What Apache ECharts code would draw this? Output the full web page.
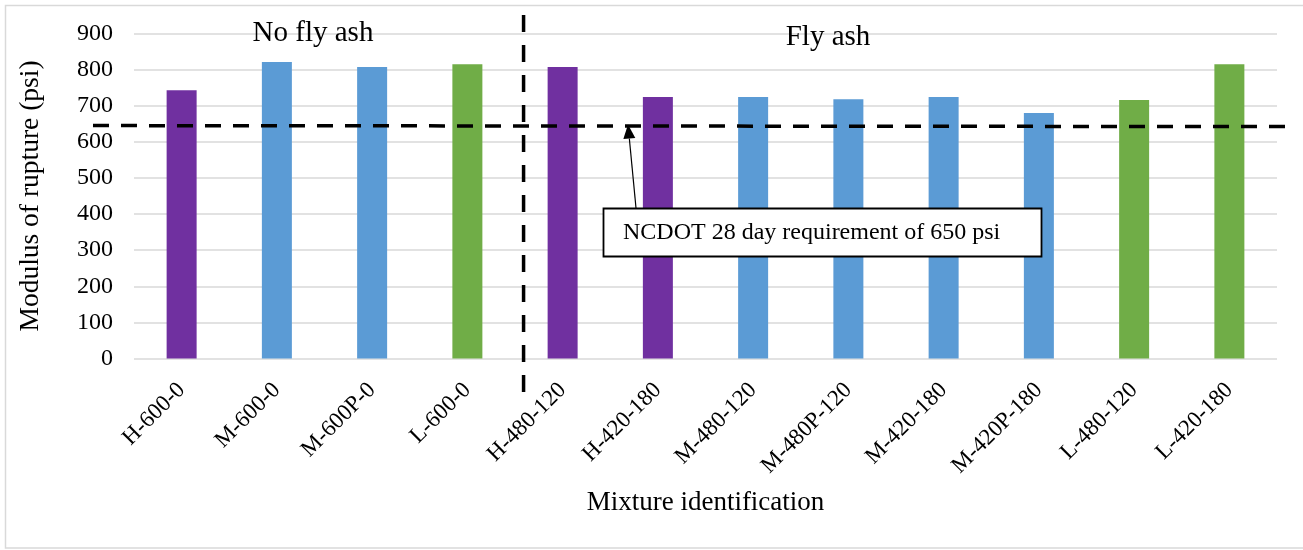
<!DOCTYPE html>
<html>
<head>
<meta charset="utf-8">
<script src="https://cdn.jsdelivr.net/npm/echarts@6/dist/echarts.min.js"></script>
<style>
html,body{margin:0;padding:0;background:#fff;}
#chart{width:1303px;height:550px;}
</style>
</head>
<body>
<div id="chart"></div>
<script>
// ---- data ----
const categories = ['H-600-0','M-600-0','M-600P-0','L-600-0','H-480-120','H-420-180','M-480-120','M-480P-120','M-420-180','M-420P-180','L-480-120','L-420-180'];
const modulusOfRupture = [743, 821, 807, 815, 807, 724, 724, 718, 724, 680, 716, 815];
const binderGroup = ['H','M','M','L','H','H','M','M','M','M','L','L'];
const yMin = 0, yMax = 900, yInterval = 100;
const requirementLine = 645;
const sectionLabels = ['No fly ash', 'Fly ash'];
const annotationText = 'NCDOT 28 day requirement of 650 psi';
const yAxisTitle = 'Modulus of rupture (psi)';
const xAxisTitle = 'Mixture identification';

const groupColors = { H: '#7030a0', M: '#5b9bd5', L: '#70ad47' };
const FONT = '"Liberation Serif", "Times New Roman", serif';

const chart = echarts.init(document.getElementById('chart'), null, { renderer: 'canvas' });

chart.setOption({
  animation: false,
  backgroundColor: '#ffffff',
  grid: { left: 134, right: 26, top: 33.5, bottom: 191.5, containLabel: false },
  xAxis: {
    type: 'category',
    data: categories,
    axisLine: { show: false },
    axisTick: { show: false },
    axisLabel: { rotate: 45, margin: 28, fontFamily: FONT, fontSize: 23, color: '#000', interval: 0 },
    name: xAxisTitle,
    nameLocation: 'middle',
    nameGap: 131,
    nameTextStyle: { fontFamily: FONT, fontSize: 27, color: '#000' }
  },
  yAxis: {
    type: 'value',
    min: yMin, max: yMax, interval: yInterval,
    axisLine: { show: false },
    axisTick: { show: false },
    axisLabel: { margin: 21, fontFamily: FONT, fontSize: 24, color: '#000' },
    splitLine: { lineStyle: { color: '#d9d9d9', width: 1.5 } },
    name: yAxisTitle,
    nameLocation: 'middle',
    nameRotate: 90,
    nameGap: 89,
    nameTextStyle: { fontFamily: FONT, fontSize: 27.5, color: '#000' }
  },
  series: [{
    type: 'bar',
    data: modulusOfRupture.map((v, i) => ({ value: v, itemStyle: { color: groupColors[binderGroup[i]] } })),
    barWidth: 30
  }]
});

function drawOverlays() {
  const yReq = chart.convertToPixel({ yAxisIndex: 0 }, requirementLine);
  const x3 = chart.convertToPixel({ xAxisIndex: 0 }, categories[3]);
  const x4 = chart.convertToPixel({ xAxisIndex: 0 }, categories[4]);
  const xDiv = x3 + (x4 - x3) * 0.59;

  const tip = [628, yReq - 1];
  const tail = [636, 208];
  const dx = tip[0] - tail[0], dy = tip[1] - tail[1];
  const len = Math.sqrt(dx * dx + dy * dy);
  const ux = dx / len, uy = dy / len;
  const hl = 14, hw = 6;
  const base = [tip[0] - ux * hl, tip[1] - uy * hl];
  const px = -uy, py = ux;

  chart.setOption({
    graphic: [
      { type: 'rect', shape: { x: 5.5, y: 5.5, width: 1300, height: 542.5 }, style: { fill: null, stroke: '#d9d9d9', lineWidth: 1.5 }, silent: true, z: 0 },
      { type: 'line', shape: { x1: 93, y1: yReq, x2: 1286, y2: yReq + 1 }, style: { stroke: '#000', lineWidth: 3.5, lineDash: [16, 12] }, z: 10 },
      { type: 'line', shape: { x1: xDiv, y1: 15, x2: xDiv, y2: 398 }, style: { stroke: '#000', lineWidth: 3.5, lineDash: [17, 13] }, z: 10 },
      { type: 'text', x: 313, y: 33, style: { text: sectionLabels[0], font: '29px ' + FONT, fill: '#000', align: 'center', verticalAlign: 'middle' }, z: 11 },
      { type: 'text', x: 828, y: 37, style: { text: sectionLabels[1], font: '29px ' + FONT, fill: '#000', align: 'center', verticalAlign: 'middle' }, z: 11 },
      { type: 'line', shape: { x1: tail[0], y1: tail[1], x2: base[0], y2: base[1] }, style: { stroke: '#000', lineWidth: 1.2 }, z: 12 },
      { type: 'polygon', shape: { points: [tip, [base[0] + px * hw, base[1] + py * hw], [base[0] - px * hw, base[1] - py * hw]] }, style: { fill: '#000' }, z: 12 },
      { type: 'rect', shape: { x: 603.5, y: 208.5, width: 438, height: 48 }, style: { fill: '#fff', stroke: '#000', lineWidth: 1.8 }, z: 12 },
      { type: 'text', x: 623, y: 233, style: { text: annotationText, font: '24px ' + FONT, fill: '#000', align: 'left', verticalAlign: 'middle' }, z: 13 }
    ]
  });
}
drawOverlays();
</script>
</body>
</html>
